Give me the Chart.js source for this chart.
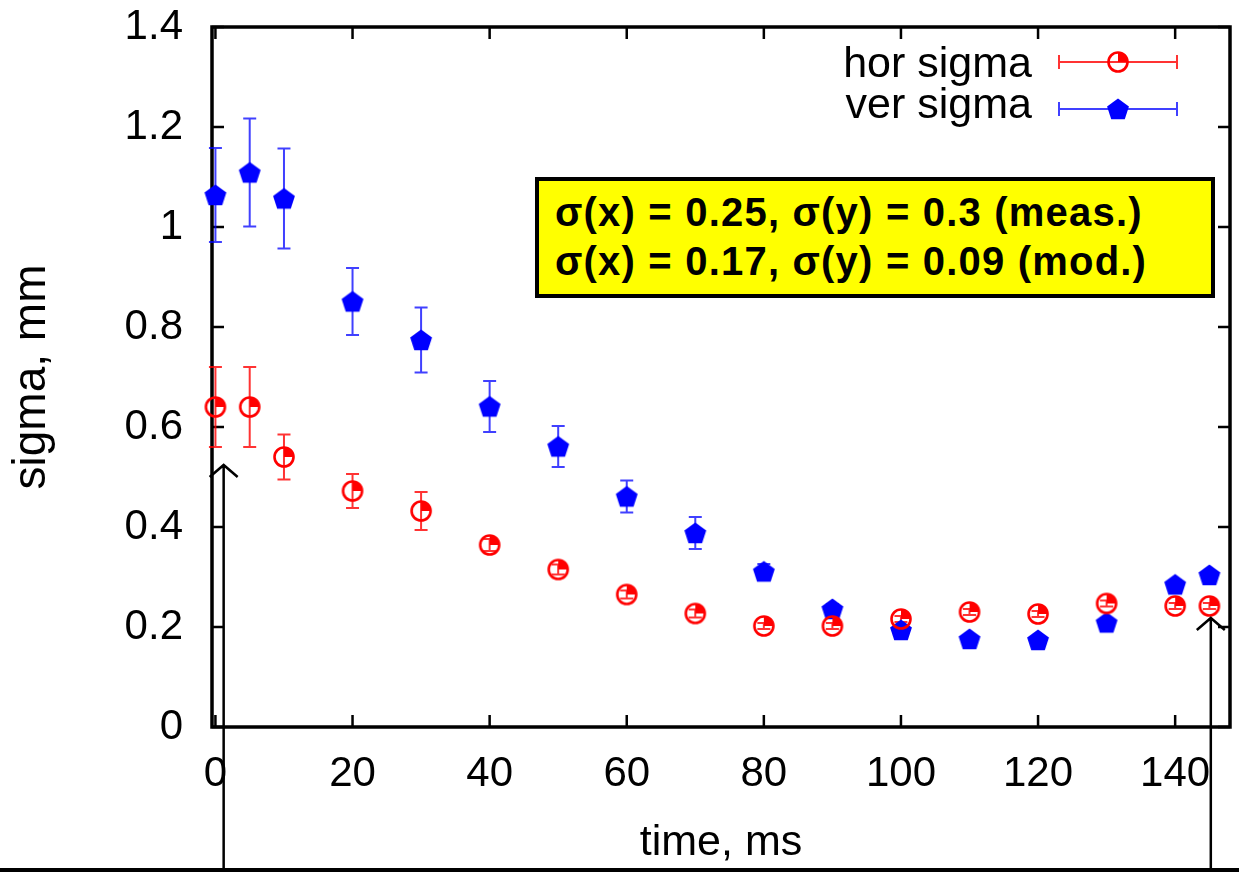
<!DOCTYPE html>
<html>
<head>
<meta charset="utf-8">
<script src="https://cdn.jsdelivr.net/npm/chart.js@4"></script>
<style>
    html, body { margin: 0; padding: 0; background: #fff; }
    #wrap { position: relative; width: 1239px; height: 872px; overflow: hidden; }
    #nota {
        position: absolute; left: 535px; top: 177px; width: 680px; height: 121px;
        box-sizing: border-box; border: 4px solid #000; background: #ffff00;
        padding: 7px 0 0 16px; white-space: nowrap;
        font: bold 40px "Liberation Sans", Arial, sans-serif; line-height: 49px; letter-spacing: 1.2px;
    }
</style>
</head>
<body>
<div id="wrap">
    <canvas id="grafico" width="1239" height="872"></canvas>
    <div id="nota">σ(x) = 0.25, σ(y) = 0.3 (meas.)<br>σ(x) = 0.17, σ(y) = 0.09 (mod.)</div>
</div>
<script>
// datos
const tiempos = [0, 5, 10, 20, 30, 40, 50, 60, 70, 80, 90, 100, 110, 120, 130, 140, 145]
const horSigma = [0.64, 0.64, 0.54, 0.472, 0.432, 0.364, 0.315, 0.265, 0.227, 0.202, 0.202, 0.216, 0.23, 0.226, 0.247, 0.242, 0.242]
const horError = [0.08, 0.08, 0.045, 0.034, 0.038, 0.012, 0.01, 0.008, 0.008, 0.006, 0.006, 0.006, 0.006, 0.006, 0.006, 0.006, 0.006]
const verSigma = [1.064, 1.109, 1.057, 0.851, 0.774, 0.641, 0.561, 0.461, 0.388, 0.311, 0.236, 0.194, 0.176, 0.174, 0.209, 0.285, 0.304]
const verError = [0.094, 0.108, 0.1, 0.067, 0.065, 0.051, 0.041, 0.032, 0.032, 0.015, 0.01, 0.008, 0.008, 0.008, 0.008, 0.008, 0.008]
const ticksX = [0, 20, 40, 60, 80, 100, 120, 140]
const ticksY = [0, 0.2, 0.4, 0.6, 0.8, 1, 1.2, 1.4]
const nombres = ['hor sigma', 'ver sigma']

const fuente = '"Liberation Sans", Arial, sans-serif'

// marcadores
const marcaHor = (() => {
    const c = document.createElement('canvas')
    c.width = 26; c.height = 26
    const g = c.getContext('2d')
    g.strokeStyle = '#ff0000'
    g.fillStyle = '#ff0000'
    g.lineWidth = 2.6
    g.beginPath(); g.arc(13, 13, 9.5, 0, Math.PI * 2); g.stroke()
    g.beginPath(); g.moveTo(13, 13); g.arc(13, 13, 9.5, -Math.PI / 2, 0); g.closePath(); g.fill()
    return c
})()

const marcaVer = (() => {
    const c = document.createElement('canvas')
    c.width = 26; c.height = 26
    const g = c.getContext('2d')
    g.fillStyle = '#0000ff'
    g.beginPath()
    for (let k = 0; k < 5; k++) {
        const a = -Math.PI / 2 + k * 2 * Math.PI / 5
        g.lineTo(13 + 11.5 * Math.cos(a), 14 + 11.5 * Math.sin(a))
    }
    g.closePath(); g.fill()
    return c
})()

const series = [
    { y: horSigma, err: horError, color: 'rgba(255,0,0,0.8)', marca: marcaHor },
    { y: verSigma, err: verError, color: 'rgba(0,0,255,0.75)', marca: marcaVer }
]

// barras de error
const barrasError = {
    id: 'barrasError',
    beforeDatasetsDraw(chart) {
        const { ctx, scales: { x, y } } = chart
        ctx.save()
        ctx.lineWidth = 2
        series.forEach(s => {
            ctx.strokeStyle = s.color
            tiempos.forEach((t, i) => {
                const px = x.getPixelForValue(t)
                const y1 = y.getPixelForValue(s.y[i] + s.err[i])
                const y2 = y.getPixelForValue(s.y[i] - s.err[i])
                ctx.beginPath()
                ctx.moveTo(px, y1); ctx.lineTo(px, y2)
                ctx.moveTo(px - 6.5, y1); ctx.lineTo(px + 6.5, y1)
                ctx.moveTo(px - 6.5, y2); ctx.lineTo(px + 6.5, y2)
                ctx.stroke()
            })
        })
        ctx.restore()
    }
}

// marco con ticks hacia adentro (estilo gnuplot)
const marco = {
    id: 'marco',
    beforeDatasetsDraw(chart) {
        const { ctx, chartArea: a, scales: { x, y } } = chart
        ctx.save()
        ctx.strokeStyle = '#000'
        ctx.lineWidth = 2.5
        ctx.beginPath()
        ticksX.forEach(v => {
            const px = x.getPixelForValue(v)
            ctx.moveTo(px, a.bottom); ctx.lineTo(px, a.bottom - 12)
            ctx.moveTo(px, a.top); ctx.lineTo(px, a.top + 12)
        })
        ticksY.forEach(v => {
            const py = y.getPixelForValue(v)
            ctx.moveTo(a.left, py); ctx.lineTo(a.left + 12, py)
            ctx.moveTo(a.right, py); ctx.lineTo(a.right - 12, py)
        })
        ctx.stroke()
        ctx.lineWidth = 3.5
        ctx.strokeRect(a.left, a.top, a.right - a.left, a.bottom - a.top)
        ctx.restore()
    }
}

// leyenda y flechas
const flechas = [{ t: 1.2, s: 0.524 }, { t: 145.2, s: 0.218 }]

const extras = {
    id: 'extras',
    afterDraw(chart) {
        const { ctx, scales: { x, y } } = chart
        ctx.save()
        // leyenda
        const filas = [{ yt: 77, ym: 62 }, { yt: 118, ym: 109 }]
        series.forEach((s, i) => {
            ctx.fillStyle = '#000'
            ctx.font = '43px ' + fuente
            ctx.textAlign = 'right'
            ctx.textBaseline = 'alphabetic'
            ctx.fillText(nombres[i], 1032, filas[i].yt)
            const ym = filas[i].ym
            ctx.strokeStyle = s.color
            ctx.lineWidth = 2
            ctx.beginPath()
            ctx.moveTo(1059, ym); ctx.lineTo(1177, ym)
            ctx.moveTo(1059, ym - 7); ctx.lineTo(1059, ym + 7)
            ctx.moveTo(1177, ym - 7); ctx.lineTo(1177, ym + 7)
            ctx.stroke()
            ctx.drawImage(s.marca, 1118 - 13, ym - 13)
        })
        // flechas
        ctx.strokeStyle = '#000'
        ctx.lineWidth = 2.5
        flechas.forEach(f => {
            const px = x.getPixelForValue(f.t)
            const py = y.getPixelForValue(f.s)
            ctx.beginPath()
            ctx.moveTo(px, chart.height); ctx.lineTo(px, py)
            ctx.moveTo(px - 14, py + 12); ctx.lineTo(px, py); ctx.lineTo(px + 14, py + 12)
            ctx.stroke()
        })
        // linea inferior
        ctx.fillStyle = '#000'
        ctx.fillRect(0, 868, chart.width, 4)
        ctx.restore()
    }
}

const datasets = series.map((s, i) => ({
    label: nombres[i],
    data: tiempos.map((t, k) => ({ x: t, y: s.y[k] })),
    pointStyle: s.marca,
    clip: false
}))

const config = {
    type: 'scatter',
    data: { datasets: datasets },
    options: {
        responsive: false,
        animation: false,
        layout: { padding: { top: 27, right: 9, left: 0, bottom: 0 } },
        plugins: { legend: { display: false }, tooltip: { enabled: false } },
        scales: {
            x: {
                type: 'linear', min: -0.5, max: 148,
                grid: { display: false, drawTicks: false },
                border: { display: false },
                afterBuildTicks: (s) => { s.ticks = ticksX.map(v => ({ value: v })) },
                afterFit: (s) => { s.height = 145; s.paddingLeft = 0; s.paddingRight = 0 },
                ticks: { padding: 22, color: '#000', font: { family: fuente, size: 42 }, maxRotation: 0, autoSkip: false, callback: (v) => String(v) },
                title: { display: true, text: 'time, ms', color: '#000', font: { family: fuente, size: 43 }, padding: { top: 0, bottom: 3 } }
            },
            y: {
                min: 0, max: 1.4,
                grid: { display: false, drawTicks: false },
                border: { display: false },
                afterBuildTicks: (s) => { s.ticks = ticksY.map(v => ({ value: v })) },
                afterFit: (s) => { s.width = 212; s.paddingTop = 0; s.paddingBottom = 0 },
                ticks: { padding: 29, color: '#000', font: { family: fuente, size: 42 }, autoSkip: false, callback: (v) => String(v) },
                title: { display: true, text: 'sigma, mm', color: '#000', font: { family: fuente, size: 46 }, padding: { top: 5, bottom: 0 } }
            }
        }
    },
    plugins: [marco, barrasError, extras]
}

const grafico = new Chart(document.querySelector('#grafico'), config)
</script>
</body>
</html>
